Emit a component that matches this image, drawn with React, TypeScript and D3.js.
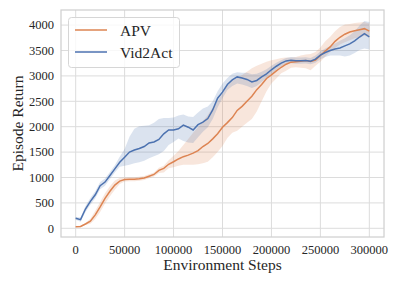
import React from "react";
import * as d3 from "d3";

const steps = [
  0, 5000, 10000, 15000, 20000, 25000, 30000, 35000, 40000, 45000,
  50000, 55000, 60000, 65000, 70000, 75000, 80000, 85000, 90000, 95000,
  100000, 105000, 110000, 115000, 120000, 125000, 130000, 135000, 140000, 145000,
  150000, 155000, 160000, 165000, 170000, 175000, 180000, 185000, 190000, 195000,
  200000, 205000, 210000, 215000, 220000, 225000, 230000, 235000, 240000, 245000,
  250000, 255000, 260000, 265000, 270000, 275000, 280000, 285000, 290000, 295000,
  300000,
];

const vidMean = [
  197, 170, 380, 530, 660, 840, 910, 1040, 1170, 1300,
  1400, 1500, 1540, 1570, 1610, 1680, 1700, 1750, 1860, 1935,
  1935, 1960, 2030, 1990, 1935, 2040, 2090, 2160, 2330, 2560,
  2680, 2830, 2920, 2980, 2960, 2930, 2880, 2910, 2980, 3040,
  3120, 3190, 3250, 3295, 3310, 3300, 3300, 3305, 3290, 3330,
  3410, 3460, 3500, 3530, 3550, 3590, 3630, 3690, 3765, 3830,
  3770,
];
const vidLo = [
  170, 130, 320, 465, 590, 770, 840, 970, 1100, 1210,
  1230, 1250, 1280, 1300, 1330, 1380, 1420, 1460, 1520, 1640,
  1700, 1770, 1720, 1690, 1680, 1790, 1900, 1990, 2150, 2380,
  2560, 2720, 2800, 2850, 2830, 2800, 2760, 2800, 2880, 2960,
  3040, 3120, 3190, 3240, 3250, 3240, 3240, 3245, 3230, 3260,
  3330, 3370, 3400, 3400, 3400, 3380, 3400, 3450, 3510, 3540,
  3520,
];
const vidHi = [
  225, 215, 440, 595, 730, 910, 980, 1110, 1240, 1410,
  1560, 1800, 1960, 2010, 2020, 2030, 2080, 2150, 2170, 2170,
  2180, 2220, 2240, 2200, 2190, 2280, 2360, 2400, 2500, 2700,
  2850, 2960, 3040, 3070, 3060, 3060, 3030, 3040, 3080, 3130,
  3200, 3260, 3310, 3350, 3370, 3360, 3360, 3365, 3350, 3400,
  3480, 3540, 3590, 3640, 3690, 3740, 3800, 3880, 3990, 4080,
  4060,
];

const apvMean = [
  32, 35, 85, 140, 265, 420, 590, 730, 850, 930,
  960, 965, 965, 975, 990, 1025, 1060, 1140, 1180, 1260,
  1310, 1365, 1410, 1440, 1480, 1530, 1610, 1670, 1760, 1860,
  1990, 2080, 2180, 2320, 2400, 2500, 2600, 2730, 2830, 2950,
  3020, 3100, 3170, 3230, 3270, 3280, 3290, 3305, 3285, 3310,
  3400, 3490, 3570, 3680, 3760, 3820, 3865, 3890, 3910, 3930,
  3880,
];
const apvLo = [
  20, 20, 65, 90, 185, 320, 490, 630, 760, 870,
  920, 925, 925, 935, 950, 985, 1020, 1090, 1100, 1180,
  1200, 1230, 1250, 1250, 1250, 1260, 1280, 1310, 1400, 1500,
  1620, 1780, 1880, 1920, 2000, 2080, 2150, 2300, 2500, 2700,
  2850, 2950, 3050, 3100, 3160, 3170, 3160, 3150, 3110, 3200,
  3280, 3380, 3470, 3550, 3620, 3660, 3700, 3740, 3760, 3790,
  3760,
];
const apvHi = [
  45, 50, 105, 190, 345, 520, 690, 830, 940, 990,
  1000, 1005, 1005, 1015, 1030, 1065, 1100, 1190, 1230, 1340,
  1430, 1520, 1640, 1760, 1880, 1990, 2110, 2230, 2380, 2500,
  2650, 2800, 2900, 2960, 3020, 3080, 3150, 3200, 3240, 3280,
  3310, 3330, 3350, 3360, 3360, 3370, 3400, 3420, 3430, 3470,
  3560, 3680, 3770, 3880, 3960, 4010, 4020, 4040, 4050, 4060,
  4030,
];

const xTicks = [0, 50000, 100000, 150000, 200000, 250000, 300000];
const yTicks = [0, 500, 1000, 1500, 2000, 2500, 3000, 3500, 4000];
const seriesNames = ["APV", "Vid2Act"];

const W = 399;
const H = 285;
const M = { left: 61, right: 384, top: 10, bottom: 237 };
const FONT = "'Liberation Serif', 'DejaVu Serif', serif";
const TEXT = "#262626";
const ORANGE = "#dd8452";
const BLUE = "#4c72b0";

export default function App() {
  const x = d3.scaleLinear().domain([-15000, 315000]).range([M.left, M.right]);
  const y = d3.scaleLinear().domain([-171, 4297]).range([M.bottom, M.top]);

  const band = (lo: number[], hi: number[]) =>
    d3
      .area<number>()
      .x((_, i) => x(steps[i]))
      .y0((_, i) => y(lo[i]))
      .y1((_, i) => y(hi[i]))(steps.map((s) => s)) || "";
  const line = (vals: number[]) =>
    d3
      .line<number>()
      .x((_, i) => x(steps[i]))
      .y((v) => y(v))(vals) || "";

  const series = [
    { name: seriesNames[0], color: ORANGE, mean: apvMean, lo: apvLo, hi: apvHi },
    { name: seriesNames[1], color: BLUE, mean: vidMean, lo: vidLo, hi: vidHi },
  ];

  return (
    <svg
      width={W}
      height={H}
      style={{ position: "absolute", left: 0, top: 0, background: "#fff" }}
      fontFamily={FONT}
    >
      <rect x={0} y={0} width={W} height={H} fill="#fff" />
      {/* grid */}
      <g stroke="#dcdcdc" strokeWidth={1}>
        {xTicks.map((t) => (
          <line key={"gx" + t} x1={x(t)} x2={x(t)} y1={M.top} y2={M.bottom} />
        ))}
        {yTicks.map((t) => (
          <line key={"gy" + t} x1={M.left} x2={M.right} y1={y(t)} y2={y(t)} />
        ))}
      </g>
      {/* bands */}
      {series.map((s) => (
        <path key={"b" + s.name} d={band(s.lo, s.hi)} fill={s.color} fillOpacity={0.2} stroke="none" />
      ))}
      {/* lines */}
      {series.map((s) => (
        <path key={"l" + s.name} d={line(s.mean)} fill="none" stroke={s.color} strokeWidth={1.5} />
      ))}
      {/* spines */}
      <rect
        x={M.left}
        y={M.top}
        width={M.right - M.left}
        height={M.bottom - M.top}
        fill="none"
        stroke="#d0d0d0"
        strokeWidth={1.25}
      />
      {/* x tick labels */}
      {xTicks.map((t) => (
        <text key={"tx" + t} x={x(t)} y={254} textAnchor="middle" fontSize={12.5} fill={TEXT}>
          {String(t)}
        </text>
      ))}
      {/* y tick labels */}
      {yTicks.map((t) => (
        <text key={"ty" + t} x={54} y={y(t)} dy="0.34em" textAnchor="end" fontSize={12.5} fill={TEXT}>
          {String(t)}
        </text>
      ))}
      {/* axis labels */}
      <text x={(M.left + M.right) / 2} y={269.5} textAnchor="middle" fontSize={15.5} fill={TEXT}>
        Environment Steps
      </text>
      <text
        transform={`translate(22.5, ${(M.top + M.bottom) / 2}) rotate(-90)`}
        textAnchor="middle"
        fontSize={15.5}
        fill={TEXT}
      >
        Episode Return
      </text>
      {/* legend */}
      <rect x={68.5} y={17.5} width={111} height={50} rx={3} fill="#fff" fillOpacity={0.8} stroke="#d6d6d6" strokeWidth={1} />
      {series.map((s, i) => (
        <g key={"lg" + s.name}>
          <line x1={75} x2={107} y1={30 + i * 22} y2={30 + i * 22} stroke={s.color} strokeWidth={1.5} />
          <text x={120} y={35.5 + i * 22} fontSize={15.5} fill={TEXT}>
            {s.name}
          </text>
        </g>
      ))}
    </svg>
  );
}
